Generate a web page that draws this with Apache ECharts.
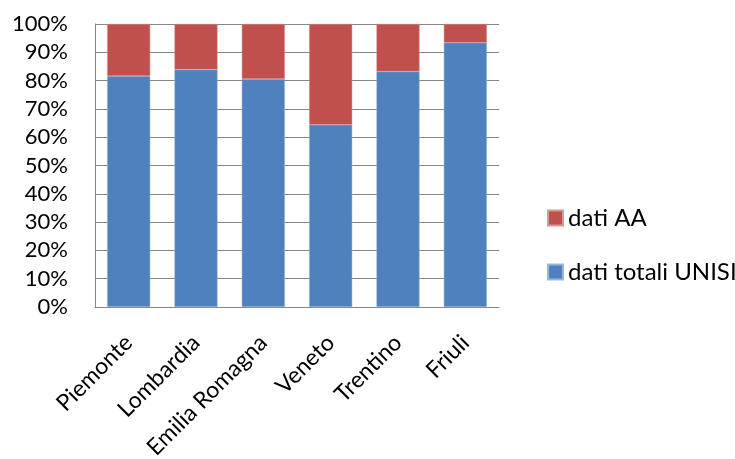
<!DOCTYPE html>
<html>
<head>
<meta charset="utf-8">
<script src="https://cdn.jsdelivr.net/npm/echarts@6/dist/echarts.min.js"></script>
<style>
  html, body { margin: 0; padding: 0; background: #fff; }
  #chart { width: 735px; height: 459px; }
</style>
</head>
<body>
<div id="chart"></div>
<script>
// Regions on the category axis
const regions = ['Piemonte', 'Lombardia', 'Emilia Romagna', 'Veneto', 'Trentino', 'Friuli'];
// Share of the total (percent) per region
const datiTotaliUnisi = [81.6, 83.9, 80.6, 64.4, 83.2, 93.4];
const datiAA = [18.4, 16.1, 19.4, 35.6, 16.8, 6.6];
// Value axis ticks
const yTicks = [0, 10, 20, 30, 40, 50, 60, 70, 80, 90, 100];

const FONT = 'Lato';
const chart = echarts.init(document.getElementById('chart'), null, { renderer: 'canvas' });

chart.setOption({
  animation: false,
  textStyle: { fontFamily: FONT },
  grid: { left: 95, right: 236, top: 24, bottom: 152, containLabel: false, outerBoundsMode: 'none' },
  legend: {
    orient: 'vertical',
    left: 542,
    top: 201,
    itemWidth: 15,
    itemHeight: 15,
    itemGap: 30,
    icon: 'rect',
    data: ['dati AA', 'dati totali UNISI'],
    textStyle: { fontFamily: FONT, fontSize: 24, color: '#000', padding: [0, 0, 0, 0] }
  },
  xAxis: {
    type: 'category',
    data: regions,
    axisLine: { lineStyle: { color: '#868686', width: 1 } },
    axisTick: { show: false },
    axisLabel: {
      rotate: 45,
      margin: 32,
      interval: 0,
      fontFamily: FONT,
      fontSize: 23,
      color: '#000'
    }
  },
  yAxis: {
    type: 'value',
    min: yTicks[0],
    max: yTicks[yTicks.length - 1],
    interval: yTicks[1] - yTicks[0],
    axisLine: { show: true, lineStyle: { color: '#868686', width: 1 } },
    axisTick: { show: false },
    splitLine: { lineStyle: { color: '#868686', width: 1 } },
    axisLabel: {
      margin: 27,
      fontFamily: FONT,
      fontSize: 22,
      color: '#000',
      formatter: v => v + '%'
    }
  },
  series: [
    {
      name: 'dati totali UNISI',
      type: 'bar',
      stack: 'tot',
      barWidth: '64%',
      data: datiTotaliUnisi,
      itemStyle: { color: '#4F81BD', borderColor: '#9db7da', borderWidth: 0.5 }
    },
    {
      name: 'dati AA',
      type: 'bar',
      stack: 'tot',
      barWidth: '64%',
      data: datiAA,
      itemStyle: { color: '#C0504D', borderColor: '#d99795', borderWidth: 0.5 }
    }
  ]
});
</script>
</body>
</html>
